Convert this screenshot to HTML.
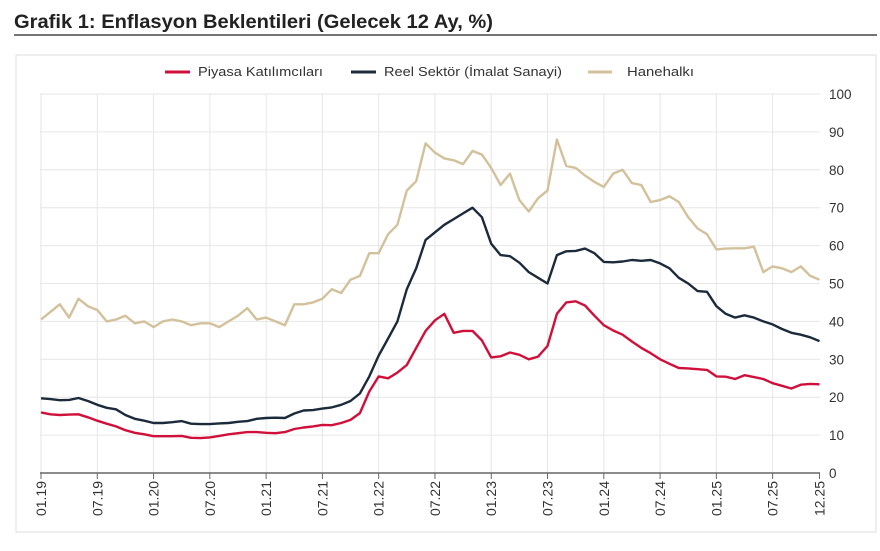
<!DOCTYPE html>
<html><head><meta charset="utf-8"><style>
body{margin:0;background:#fff;width:880px;height:546px;overflow:hidden;font-family:"Liberation Sans",sans-serif}
</style></head><body>
<svg width="880" height="546" xmlns="http://www.w3.org/2000/svg" font-family="Liberation Sans, sans-serif">
<text x="14" y="28" font-size="19" font-weight="bold" fill="#222" textLength="479" lengthAdjust="spacingAndGlyphs">Grafik 1: Enflasyon Beklentileri (Gelecek 12 Ay, %)</text>
<line x1="14" y1="35" x2="877" y2="35" stroke="#222" stroke-width="1.2"/>
<rect x="16" y="55" width="860" height="477" fill="#fff" stroke="#ddd" stroke-width="1"/>
<g id="grid" stroke="#e6e6e6" stroke-width="1"></g>
<line x1="40" y1="473" x2="820" y2="473" stroke="#666" stroke-width="1.5"/>
<g id="ticks" stroke="#666" stroke-width="1"></g>
<g id="ylab" font-size="13.5" fill="#333"></g>
<g id="xlab" font-size="14" fill="#333"></g>
<g font-size="13" fill="#333">
<line x1="165" y1="72" x2="190" y2="72" stroke="#d0103a" stroke-width="3"/>
<text x="198" y="76" textLength="125" lengthAdjust="spacingAndGlyphs">Piyasa Katılımcıları</text>
<line x1="351" y1="72" x2="376" y2="72" stroke="#1c2b3c" stroke-width="3"/>
<text x="384" y="76" textLength="178" lengthAdjust="spacingAndGlyphs">Reel Sektör (İmalat Sanayi)</text>
<line x1="588" y1="72" x2="612" y2="72" stroke="#d3c19b" stroke-width="3"/>
<text x="627" y="76" textLength="67" lengthAdjust="spacingAndGlyphs">Hanehalkı</text>
</g>
<g id="series" fill="none" stroke-width="2.4" stroke-linejoin="round"></g>
</svg>
<script>
var ns="http://www.w3.org/2000/svg";
function el(p,t,a,txt){var e=document.createElementNS(ns,t);for(var k in a)e.setAttribute(k,a[k]);if(txt!=null)e.textContent=txt;document.getElementById(p).appendChild(e);return e;}
function X(m){return 41+9.38*m;}function Y(v){return 473-3.79*v;}
for(var v=10;v<=100;v+=10)el("grid","line",{x1:40,x2:820,y1:Y(v),y2:Y(v)});
var labs=["01.19","07.19","01.20","07.20","01.21","07.21","01.22","07.22","01.23","07.23","01.24","07.24","01.25","07.25","12.25"];
for(var i=0;i<labs.length;i++){var m=i<14?i*6:83;var x=X(m);
 if(i<14)el("grid","line",{x1:x,x2:x,y1:94,y2:473});
 el("ticks","line",{x1:x,x2:x,y1:473,y2:479});
 el("xlab","text",{x:0,y:0,transform:"translate("+(x+5)+",481) rotate(-90)","text-anchor":"end"},labs[i]);}
for(var v=0;v<=100;v+=10)el("ylab","text",{x:829,y:Y(v)+5},String(v));
var H=[40.5,42.5,44.5,41,46,44,43,40,40.5,41.5,39.5,40,38.5,40,40.5,40,39,39.5,39.5,38.5,40,41.5,43.5,40.5,41,40,39,44.5,44.5,45,46,48.5,47.5,51,52,58,58,63,65.5,74.5,77,87,84.5,83,82.5,81.5,85,84,80.5,76,79,72,69,72.5,74.5,88,81,80.5,78.5,76.8,75.5,79,80,76.5,76,71.5,72,73,71.5,67.5,64.5,63,59,59.2,59.3,59.3,59.7,53,54.5,54,53,54.5,52,51];
var R=[19.7,19.5,19.2,19.3,19.8,19,18,17.2,16.8,15.3,14.3,13.8,13.2,13.2,13.4,13.7,13,12.9,12.9,13.1,13.2,13.5,13.7,14.3,14.5,14.6,14.5,15.7,16.5,16.6,17,17.3,18,19,21,25.5,31,35.5,40,48.5,54,61.5,63.5,65.5,67,68.5,70,67.5,60.5,57.5,57.2,55.5,53,51.5,50,57.5,58.5,58.6,59.2,58,55.7,55.6,55.8,56.2,56,56.2,55.3,54,51.5,50,48,47.8,44,42,41,41.6,41,40,39.2,38,37,36.5,35.8,34.8];
var P=[16,15.5,15.3,15.4,15.5,14.7,13.8,13,12.3,11.3,10.6,10.2,9.7,9.7,9.7,9.8,9.3,9.2,9.4,9.8,10.2,10.5,10.8,10.8,10.6,10.5,10.8,11.6,12,12.3,12.7,12.6,13.2,14,15.8,21.5,25.5,25,26.5,28.5,33,37.5,40.3,42,37,37.5,37.5,35,30.5,30.8,31.8,31.2,30,30.7,33.5,42,45,45.3,44.2,41.5,39,37.6,36.5,34.7,33,31.6,30,28.8,27.7,27.6,27.4,27.2,25.5,25.4,24.8,25.8,25.3,24.8,23.7,23,22.3,23.3,23.5,23.4];
function pl(d,c){var s=d.map(function(v,i){return X(i).toFixed(1)+","+Y(v).toFixed(1)}).join(" ");el("series","polyline",{points:s,stroke:c});}
pl(H,"#d3c19b");pl(R,"#1c2b3c");pl(P,"#d0103a");
</script>
</body></html>
